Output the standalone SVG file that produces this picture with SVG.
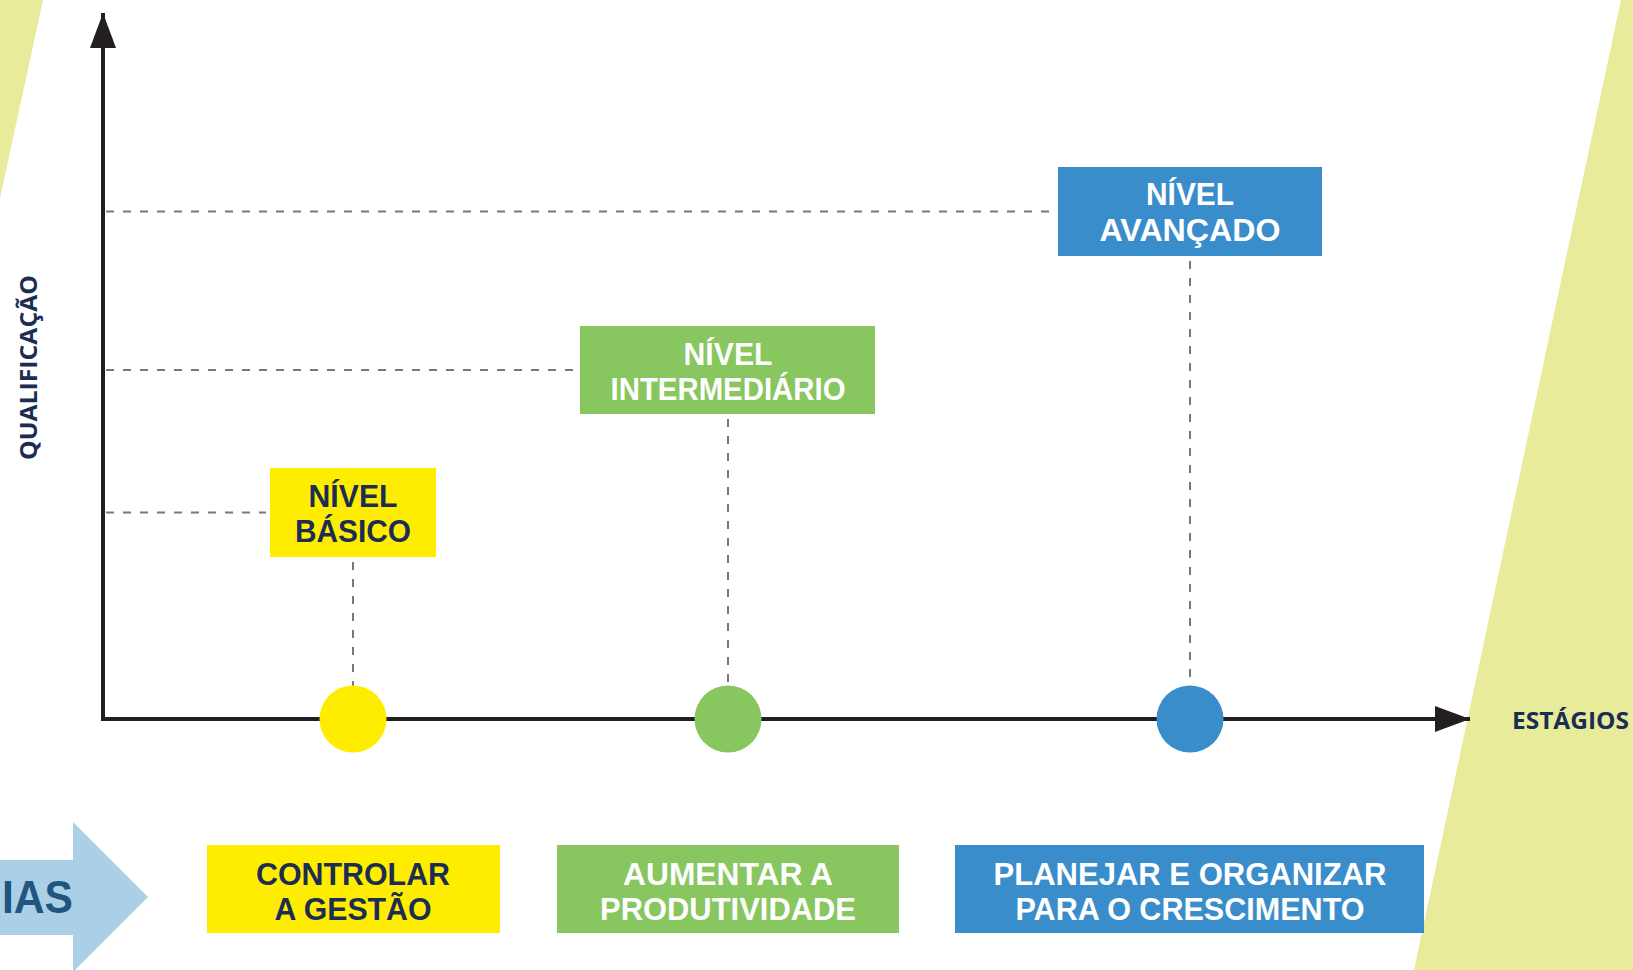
<svg xmlns="http://www.w3.org/2000/svg" width="1633" height="970" viewBox="0 0 1633 970">
<style>
.bg{fill:#e8eb9a}
.axis{stroke:#231f20;stroke-width:4;fill:none}
.dash{stroke:#77787b;stroke-width:2;stroke-dasharray:8 9;fill:none}
.lbl{font-family:"Liberation Sans",Arial,sans-serif;font-weight:bold;font-size:31px;text-anchor:middle}
.blbl{font-family:"Liberation Sans",Arial,sans-serif;font-weight:bold;font-size:32px;text-anchor:middle}
.ax{font-family:"Open Sans","Liberation Sans",sans-serif;font-weight:bold;font-size:23px;fill:#1b2d52}
.dk{fill:#1b2d52}
.wh{fill:#ffffff}
.yel{fill:#ffed00}
.grn{fill:#88c65f}
.blu{fill:#3a8dcb}
</style>
<defs>
<marker id="ah" markerWidth="35" markerHeight="26" refX="35" refY="13" orient="auto" markerUnits="userSpaceOnUse">
<path d="M0,0 L35,13 L0,26 Z" fill="#231f20"/>
</marker>
</defs>
<rect width="1633" height="970" fill="#ffffff"/>
<g id="background">
<polygon class="bg" points="0,0 43,0 0,198"/>
<polygon class="bg" points="1621,0 1633,0 1633,970 1414,970"/>
</g>
<g id="connectors">
<line class="axis" x1="103" y1="721" x2="103" y2="13" marker-end="url(#ah)"/>
<line class="axis" x1="101" y1="719" x2="1470" y2="719" marker-end="url(#ah)"/>
<line class="dash" x1="106" y1="211.5" x2="1052" y2="211.5"/>
<line class="dash" x1="106" y1="370" x2="574" y2="370"/>
<line class="dash" x1="106" y1="512.5" x2="266" y2="512.5"/>
<line class="dash" x1="353" y1="562" x2="353" y2="686"/>
<line class="dash" x1="728" y1="419" x2="728" y2="686"/>
<line class="dash" x1="1190" y1="261" x2="1190" y2="686"/>
</g>
<g id="axis-labels">
<text class="ax" x="1629" y="729" text-anchor="end" textLength="117" lengthAdjust="spacingAndGlyphs">ESTÁGIOS</text>
<text class="ax" transform="translate(37,460) rotate(-90)" textLength="185" lengthAdjust="spacingAndGlyphs">QUALIFICAÇÃO</text>
</g>
<g id="circle-basico"><circle class="yel" cx="353" cy="719" r="33.5"/></g>
<g id="circle-intermediario"><circle class="grn" cx="728" cy="719" r="33.5"/></g>
<g id="circle-avancado"><circle class="blu" cx="1190" cy="719" r="33.5"/></g>
<g id="nivel-basico">
<rect class="yel" x="270" y="468" width="166" height="89"/>
<text class="lbl dk" x="353" y="507" textLength="89" lengthAdjust="spacingAndGlyphs">NÍVEL</text>
<text class="lbl dk" x="353" y="542" textLength="116" lengthAdjust="spacingAndGlyphs">BÁSICO</text>
</g>
<g id="nivel-intermediario">
<rect class="grn" x="580" y="326" width="295" height="88"/>
<text class="lbl wh" x="728" y="365" textLength="89" lengthAdjust="spacingAndGlyphs">NÍVEL</text>
<text class="lbl wh" x="728" y="400" textLength="235" lengthAdjust="spacingAndGlyphs">INTERMEDIÁRIO</text>
</g>
<g id="nivel-avancado">
<rect class="blu" x="1058" y="167" width="264" height="89"/>
<text class="lbl wh" x="1190" y="205" textLength="88" lengthAdjust="spacingAndGlyphs">NÍVEL</text>
<text class="lbl wh" x="1190" y="241" textLength="181" lengthAdjust="spacingAndGlyphs">AVANÇADO</text>
</g>
<g id="arrow-ias">
<polygon fill="#a9d0e6" points="0,860 73,860 73,822 148,897 73,972 73,935 0,935"/>
<text x="2" y="913" textLength="71" lengthAdjust="spacingAndGlyphs" font-family="'Liberation Sans',Arial,sans-serif" font-weight="bold" font-size="46" fill="#1f557f">IAS</text>
</g>
<g id="controlar">
<rect class="yel" x="207" y="845" width="293" height="88"/>
<text class="blbl dk" x="353" y="885" textLength="194" lengthAdjust="spacingAndGlyphs">CONTROLAR</text>
<text class="blbl dk" x="353" y="920" textLength="157" lengthAdjust="spacingAndGlyphs">A GESTÃO</text>
</g>
<g id="aumentar">
<rect class="grn" x="557" y="845" width="342" height="88"/>
<text class="blbl wh" x="728" y="885" textLength="210" lengthAdjust="spacingAndGlyphs">AUMENTAR A</text>
<text class="blbl wh" x="728" y="920" textLength="256" lengthAdjust="spacingAndGlyphs">PRODUTIVIDADE</text>
</g>
<g id="planejar">
<rect class="blu" x="955" y="845" width="469" height="88"/>
<text class="blbl wh" x="1190" y="885" textLength="393" lengthAdjust="spacingAndGlyphs">PLANEJAR E ORGANIZAR</text>
<text class="blbl wh" x="1190" y="920" textLength="349" lengthAdjust="spacingAndGlyphs">PARA O CRESCIMENTO</text>
</g>
</svg>
